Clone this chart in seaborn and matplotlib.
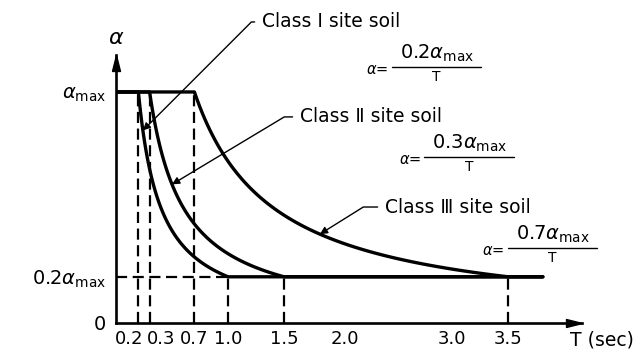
import numpy as np
import pandas as pd
import matplotlib
matplotlib.use("Agg")
import matplotlib.pyplot as plt
import matplotlib.transforms as mtransforms
import seaborn as sns

# Design spectrum: plateau up to Tg, then alpha = Tg*alpha_max/T down to the floor
soil_classes = ["Class Ⅰ site soil", "Class Ⅱ site soil", "Class Ⅲ site soil"]
period_tg = [0.2, 0.3, 0.7]        # end of the plateau (s)
period_floor = [1.0, 1.5, 3.5]     # period where the curve meets the floor (s)
coef_labels = ["0.2", "0.3", "0.7"]
alpha_max = 1.0
floor_ratio = 0.2
period_tail = 3.81                 # end of the drawn floor line

x_ticks = [0.2, 0.3, 0.7, 1.0, 1.5, 2.0, 3.0, 3.5]
x_tick_labels = ["0.2", "0.3", "0.7", "1.0", "1.5", "2.0", "3.0", "3.5"]
y_ticks = [0.0, 0.2, 1.0]
y_tick_labels = ["0", r"$0.2\alpha_{\rm max}$", r"$\alpha_{\rm max}$"]

sns.set_style("white")
plt.rcParams["font.family"] = ["DejaVu Sans"]
plt.rcParams["mathtext.fontset"] = "dejavusans"
plt.rcParams["text.color"] = "black"
plt.rcParams["xtick.color"] = "black"
plt.rcParams["ytick.color"] = "black"
plt.rcParams["axes.labelcolor"] = "black"

# one polyline per site class
frames = []
for name, tg, tf in zip(soil_classes, period_tg, period_floor):
    t_dec = np.linspace(tg, tf, 120)
    T = np.concatenate([[0.0], t_dec, [period_tail]])
    a = np.concatenate([[alpha_max], tg * alpha_max / t_dec, [floor_ratio * alpha_max]])
    frames.append(pd.DataFrame({"T": T, "alpha": a, "soil": name}))
spectrum = pd.concat(frames, ignore_index=True)

fig = plt.figure(figsize=(6.41, 3.53), dpi=100)
ax = fig.add_axes([116 / 641, 30 / 353, 466 / 641, 268 / 353])
ax.set_xlim(0, 4.16)
ax.set_ylim(0, 1.16)

sns.lineplot(data=spectrum, x="T", y="alpha", units="soil", estimator=None,
             sort=False, color="black", lw=2.4, ax=ax, zorder=3)

# dashed guides
dash = (0, (5, 2.5))
ax.vlines(period_tg, 0, alpha_max, colors="black", linestyles=dash, lw=1.6, zorder=2)
ax.vlines(period_floor, 0, floor_ratio * alpha_max, colors="black",
          linestyles=dash, lw=1.6, zorder=2)
ax.hlines(floor_ratio * alpha_max, 0, period_floor[0], colors="black",
          linestyles=dash, lw=1.6, zorder=2)

# axes with arrow heads
for side in ["top", "right"]:
    ax.spines[side].set_visible(False)
for side in ["left", "bottom"]:
    ax.spines[side].set_linewidth(1.9)
    ax.spines[side].set_color("black")
arrow_right = [(-1, -0.25), (0, 0), (-1, 0.25), (-1, -0.25)]
arrow_up = [(-0.25, -1), (0, 0), (0.25, -1), (-0.25, -1)]
ax.plot([1], [0], marker=arrow_right, ms=23, color="black",
        transform=ax.get_yaxis_transform(), clip_on=False)
ax.plot([0], [1], marker=arrow_up, ms=23, color="black",
        transform=ax.get_xaxis_transform(), clip_on=False)

ax.set_xticks(x_ticks)
ax.set_xticklabels(x_tick_labels, fontsize=13)
ax.set_yticks(y_ticks)
ax.set_yticklabels(y_tick_labels, fontsize=14)
ax.tick_params(axis="both", length=0, colors="black")
ax.tick_params(axis="x", pad=5)
ax.tick_params(axis="y", pad=7)
ax.set_xlabel("")
ax.set_ylabel("")

# spread the crowded labels at the short periods
label_shift = {"0.2": -6.5, "0.3": 8.5, "2.0": 3.5}
for lab in ax.get_xticklabels():
    dx = label_shift.get(lab.get_text(), 0.0)
    if dx:
        lab.set_transform(lab.get_transform() +
                          mtransforms.ScaledTranslation(dx / 72, 0, fig.dpi_scale_trans))

ax.text(0, 1.19, r"$\alpha$", fontsize=16, ha="center", va="bottom", clip_on=False)
ax.text(4.05, -0.074, "T (sec)", fontsize=13.5, ha="left", va="center", clip_on=False)

# class leaders: text position, point on curve, leader angle
leader_text = [(1.304, 1.303), (1.643, 0.892), (2.402, 0.502)]
leader_period = [0.24, 0.5, 1.82]
leader_angle = [45, 31, 32]
for name, tg, (tx, ty), tp, ang in zip(soil_classes, period_tg, leader_text,
                                       leader_period, leader_angle):
    ax.annotate(name, xy=(tp, tg * alpha_max / tp), xytext=(tx, ty),
                fontsize=13.5, ha="left", va="center", annotation_clip=False,
                arrowprops=dict(arrowstyle="-|>", color="black", lw=1.0,
                                mutation_scale=11, shrinkA=3, shrinkB=0,
                                relpos=(0, 0.5),
                                connectionstyle=f"angle,angleA=0,angleB={ang},rad=0"))

# formula annotations alpha = k*alpha_max / T
formula_center = [(2.862, 1.108), (3.152, 0.719), (3.897, 0.325)]
bar_half = 0.40
for coef, (cx, cy) in zip(coef_labels, formula_center):
    ax.plot([cx - bar_half, cx + bar_half], [cy, cy], color="black", lw=1.0,
            clip_on=False)
    ax.text(cx, cy + 0.012, rf"${coef}\alpha_{{\rm max}}$", fontsize=14,
            ha="center", va="bottom", clip_on=False)
    ax.text(cx, cy - 0.012, "T", fontsize=10, ha="center", va="top", clip_on=False)
    ax.text(cx - bar_half - 0.03, cy - 0.01, r"$\alpha$=", fontsize=10.5,
            ha="right", va="center", clip_on=False)

fig.savefig("out.png", dpi=100)
